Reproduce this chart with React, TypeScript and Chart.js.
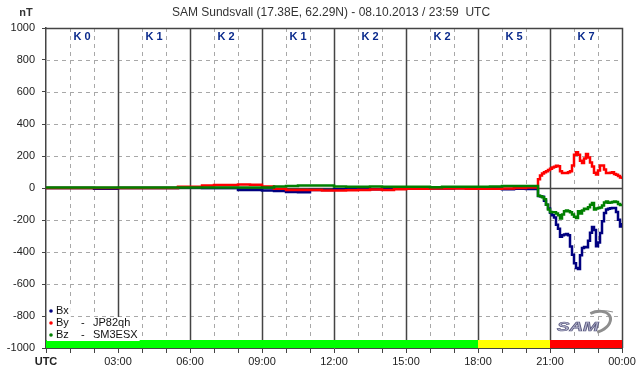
import React, { useEffect, useRef } from 'react';
import { Chart, registerables } from 'chart.js';

Chart.register(...registerables);

const FONT = '"Liberation Sans", Arial, Helvetica, sans-serif';

// time grid (minutes after 00:00 UTC)
const quietMinutes = [
  0, 30, 60, 90, 120, 150, 180, 210, 240, 270, 300, 330, 360, 390, 420, 450, 480, 510, 540, 570,
  600, 630, 660, 690, 720, 750, 780, 810, 840, 870, 900, 930, 960, 990, 1020, 1050, 1080, 1110, 1140, 1170,
];
const stormMinutes = [
  1200, 1205, 1210, 1215, 1220, 1225, 1230, 1235, 1240, 1245, 1250, 1255, 1260, 1265, 1270, 1275, 1280,
  1285, 1290, 1295, 1300, 1305, 1310, 1315, 1320, 1325, 1330, 1335, 1340, 1345, 1350, 1355, 1360, 1365,
  1370, 1375, 1380, 1385, 1390, 1395, 1400, 1405, 1410, 1415, 1420, 1425, 1430, 1435, 1440,
];

// Bx (nT)
const bxQuiet = [
  0, 0, 0, 0, -5, -5, 0, 0, 0, 0, 0, 5, 3, 0, 0, 0, -12, -13, -15, -19,
  -25, -27, -13, -13, -8, -10, -10, -8, -5, -5, -5, 0, -3, -3, 0, -2, -2, -2, -8, -5,
];
const bxStorm = [
  -6, -6, -6, -6, -6, -6, -50, -52, -55, -80, -105, -128, -155, -170, -185, -229, -255,
  -305, -295, -290, -287, -295, -365, -417, -470, -500, -506, -420, -375, -368, -370, -330, -280, -244,
  -262, -364, -340, -281, -208, -156, -135, -129, -127, -125, -125, -150, -198, -240, -219,
];

// By (nT)
const byQuiet = [
  0, 0, 0, 0, 0, 0, 0, 0, 0, 0, 0, 8, 8, 15, 19, 19, 22, 20, 10, -5,
  -12, -12, -12, -15, -15, -14, -12, -10, -12, -8, -5, -5, -3, -3, -3, -5, -5, -5, -3, 0,
];
const byStorm = [
  3, 3, 3, 3, 3, 3, 55, 78, 90, 98, 104, 112, 120, 128, 133, 139, 136,
  105, 94, 94, 94, 98, 105, 140, 208, 223, 208, 170, 156, 185, 212, 190, 160, 135,
  95, 85, 110, 140, 140, 115, 94, 94, 96, 98, 88, 83, 75, 65, 56,
];

// Bz (nT)
const bzQuiet = [
  3, 3, 3, 3, 3, 3, 3, 3, 3, 3, 3, 3, 3, 3, 3, 3, 3, 3, 3, 10,
  12, 15, 15, 15, 10, 8, 8, 10, 8, 8, 8, 8, 5, 8, 8, 8, 8, 10, 12, 12,
];
const bzStorm = [
  12, 12, 12, 12, 12, 12, -48, -52, -58, -70, -104, -135, -150, -152, -152, -160, -170,
  -190, -165, -145, -140, -146, -152, -165, -180, -187, -146, -160, -140, -130, -132, -120, -104, -94,
  -135, -128, -125, -122, -110, -90, -85, -92, -90, -88, -84, -88, -100, -106, -110,
];

// K index per 3-hour block
const kBlockStart = [0, 180, 360, 540, 720, 900, 1080, 1260];
const kValues = [0, 1, 2, 1, 2, 2, 5, 7];

const xTickLabels: Record<number, string> = {
  0: 'UTC', 180: '03:00', 360: '06:00', 540: '09:00', 720: '12:00',
  900: '15:00', 1080: '18:00', 1260: '21:00', 1440: '00:00',
};

const legendRows = [
  { name: 'Bx', station: '', color: '#000080' },
  { name: 'By', station: 'JP82qh', color: '#ff0000' },
  { name: 'Bz', station: 'SM3ESX', color: '#008000' },
];

const titleText = 'SAM Sundsvall (17.38E, 62.29N) - 08.10.2013 / 23:59  UTC';

function pts(mins: number[], vals: number[]) {
  return mins.map((m, i) => ({ x: m, y: vals[i] }));
}

function kColor(k: number) {
  if (k >= 6) return '#ff0000';
  if (k >= 5) return '#ffff00';
  return '#00ff00';
}

const decor = {
  id: 'samDecor',
  beforeDraw(chart: any) {
    const ctx = chart.ctx;
    ctx.save();
    ctx.fillStyle = '#ffffff';
    ctx.fillRect(0, 0, chart.width, chart.height);
    ctx.restore();
  },
  beforeDatasetsDraw(chart: any) {
    const ctx = chart.ctx;
    const xs = chart.scales.x;
    const ys = chart.scales.y;
    const { left, right, top, bottom } = chart.chartArea;
    ctx.save();
    ctx.lineWidth = 1;
    for (let v = -800; v <= 800; v += 200) {
      if (v === 0) continue;
      const y = Math.round(ys.getPixelForValue(v)) + 0.5;
      ctx.strokeStyle = '#a8a8a8';
      ctx.setLineDash([4, 4]);
      ctx.beginPath();
      ctx.moveTo(left, y);
      ctx.lineTo(right, y);
      ctx.stroke();
    }
    for (let m = 60; m < 1440; m += 60) {
      const x = Math.round(xs.getPixelForValue(m)) + 0.5;
      if (m % 180 === 0) {
        ctx.setLineDash([]);
        ctx.strokeStyle = '#444444';
        ctx.lineWidth = 1.5;
      } else {
        ctx.setLineDash([4, 4]);
        ctx.strokeStyle = '#a8a8a8';
        ctx.lineWidth = 1;
      }
      ctx.beginPath();
      ctx.moveTo(x, top);
      ctx.lineTo(x, bottom);
      ctx.stroke();
    }
    ctx.setLineDash([]);
    ctx.strokeStyle = '#444444';
    ctx.lineWidth = 1.5;
    const y0 = Math.round(ys.getPixelForValue(0)) + 0.5;
    ctx.beginPath();
    ctx.moveTo(left, y0);
    ctx.lineTo(right, y0);
    ctx.stroke();
    const yt = Math.round(ys.getPixelForValue(1000)) + 0.5;
    const xr = Math.round(xs.getPixelForValue(1440)) + 0.5;
    ctx.beginPath();
    ctx.moveTo(left, yt);
    ctx.lineTo(xr, yt);
    ctx.lineTo(xr, bottom);
    ctx.stroke();
    ctx.restore();
  },
  afterDatasetsDraw(chart: any) {
    const ctx = chart.ctx;
    const xs = chart.scales.x;
    const ys = chart.scales.y;
    const { left } = chart.chartArea;
    ctx.save();
    const barTop = ys.getPixelForValue(-950);
    const barBot = ys.getPixelForValue(-1000);
    kBlockStart.forEach((s, i) => {
      const x1 = xs.getPixelForValue(s);
      const x2 = xs.getPixelForValue(s + 180);
      ctx.fillStyle = kColor(kValues[i]);
      ctx.fillRect(x1, barTop, x2 - x1, barBot - barTop);
    });
    ctx.fillStyle = '#0a2a8c';
    ctx.font = `bold 11px ${FONT}`;
    ctx.textAlign = 'center';
    ctx.textBaseline = 'middle';
    kBlockStart.forEach((s, i) => {
      const xc = xs.getPixelForValue(s + 90);
      ctx.fillText('K ' + kValues[i], xc, 37);
    });
    ctx.font = `11px ${FONT}`;
    ctx.textAlign = 'left';
    const rowY = [311, 323, 335];
    legendRows.forEach((r, i) => {
      const y = rowY[i];
      const endX = r.station ? 93 + ctx.measureText(r.station).width : 56 + ctx.measureText(r.name).width;
      ctx.fillStyle = '#ffffff';
      ctx.fillRect(left + 1, y - 6, endX - left + 1, 12);
      ctx.fillStyle = r.color;
      ctx.beginPath();
      ctx.arc(51, y, 1.8, 0, Math.PI * 2);
      ctx.fill();
      ctx.fillStyle = '#111111';
      ctx.fillText(r.name, 56, y);
      if (r.station) {
        ctx.fillText('-', 81, y);
        ctx.fillText(r.station, 93, y);
      }
    });
    // SAM logo
    ctx.save();
    ctx.strokeStyle = '#8e8e8e';
    ctx.lineWidth = 3;
    ctx.beginPath();
    ctx.ellipse(596, 322, 15, 10, -0.35, -0.55 * Math.PI, 0.55 * Math.PI);
    ctx.stroke();
    ctx.lineWidth = 1;
    ctx.beginPath();
    ctx.moveTo(590, 313);
    ctx.quadraticCurveTo(602, 309, 613, 312);
    ctx.stroke();
    ctx.font = `italic bold 15px ${FONT}`;
    ctx.textAlign = 'left';
    ctx.textBaseline = 'alphabetic';
    ctx.fillStyle = '#b4b4cc';
    ctx.strokeStyle = '#5a5a80';
    ctx.lineWidth = 0.8;
    ctx.save();
    ctx.translate(557, 331);
    ctx.scale(1.25, 0.8);
    ctx.fillText('SAM', 0, 0);
    ctx.strokeText('SAM', 0, 0);
    ctx.restore();
    ctx.restore();
    ctx.fillStyle = '#333333';
    ctx.font = `12px ${FONT}`;
    ctx.textAlign = 'center';
    ctx.textBaseline = 'middle';
    ctx.fillText(titleText, 331, 13);
    ctx.font = `bold 11px ${FONT}`;
    ctx.fillText('nT', 26, 13);
    ctx.restore();
  },
};

export default function App() {
  const ref = useRef<HTMLCanvasElement | null>(null);
  useEffect(() => {
    if (!ref.current) return;
    const mk = (label: string, q: number[], s: number[], color: string, order: number) => ({
      label,
      data: pts(quietMinutes.concat(stormMinutes), q.concat(s)),
      borderColor: color,
      backgroundColor: color,
      borderWidth: 2.5,
      pointRadius: 0,
      stepped: true,
      fill: false,
      order,
    });
    const chart = new Chart(ref.current, {
      type: 'line',
      data: {
        datasets: [
          mk('Bx', bxQuiet, bxStorm, '#000080', 3),
          mk('By', byQuiet, byStorm, '#ff0000', 2),
          mk('Bz', bzQuiet, bzStorm, '#008000', 1),
        ],
      },
      options: {
        responsive: false,
        animation: false,
        layout: { padding: { top: 28, right: 20, left: 0, bottom: 0 } },
        plugins: { legend: { display: false }, tooltip: { enabled: false }, title: { display: false } },
        scales: {
          x: {
            type: 'linear',
            min: 0,
            max: 1440,
            afterFit: (s: any) => { s.height = 28; },
            grid: { drawOnChartArea: false, drawTicks: true, tickLength: 5, color: '#444444', lineWidth: 1 },
            border: { display: true, color: '#444444', width: 1 },
            ticks: {
              stepSize: 60,
              autoSkip: false,
              maxRotation: 0,
              padding: 2,
              color: '#222222',
              font: (c: any) => ({ family: FONT, size: 11, weight: c.tick && c.tick.value === 0 ? 'bold' : 'normal' }),
              callback: (v: any) => (xTickLabels[Number(v)] !== undefined ? xTickLabels[Number(v)] : ''),
            },
          },
          y: {
            type: 'linear',
            min: -1000,
            max: 1000,
            afterFit: (s: any) => { s.width = 46; },
            grid: { drawOnChartArea: false, drawTicks: true, tickLength: 4, color: '#444444' },
            border: { display: true, color: '#444444', width: 1.5 },
            ticks: {
              stepSize: 200,
              padding: 7,
              color: '#222222',
              font: { family: FONT, size: 11 },
              callback: (v: any) => String(v),
            },
          },
        },
      },
      plugins: [decor],
    } as any);
    return () => chart.destroy();
  }, []);
  return (
    <div style={{ position: 'absolute', left: 0, top: 0, width: 642, height: 376 }}>
      <canvas ref={ref} width={642} height={376} />
    </div>
  );
}
